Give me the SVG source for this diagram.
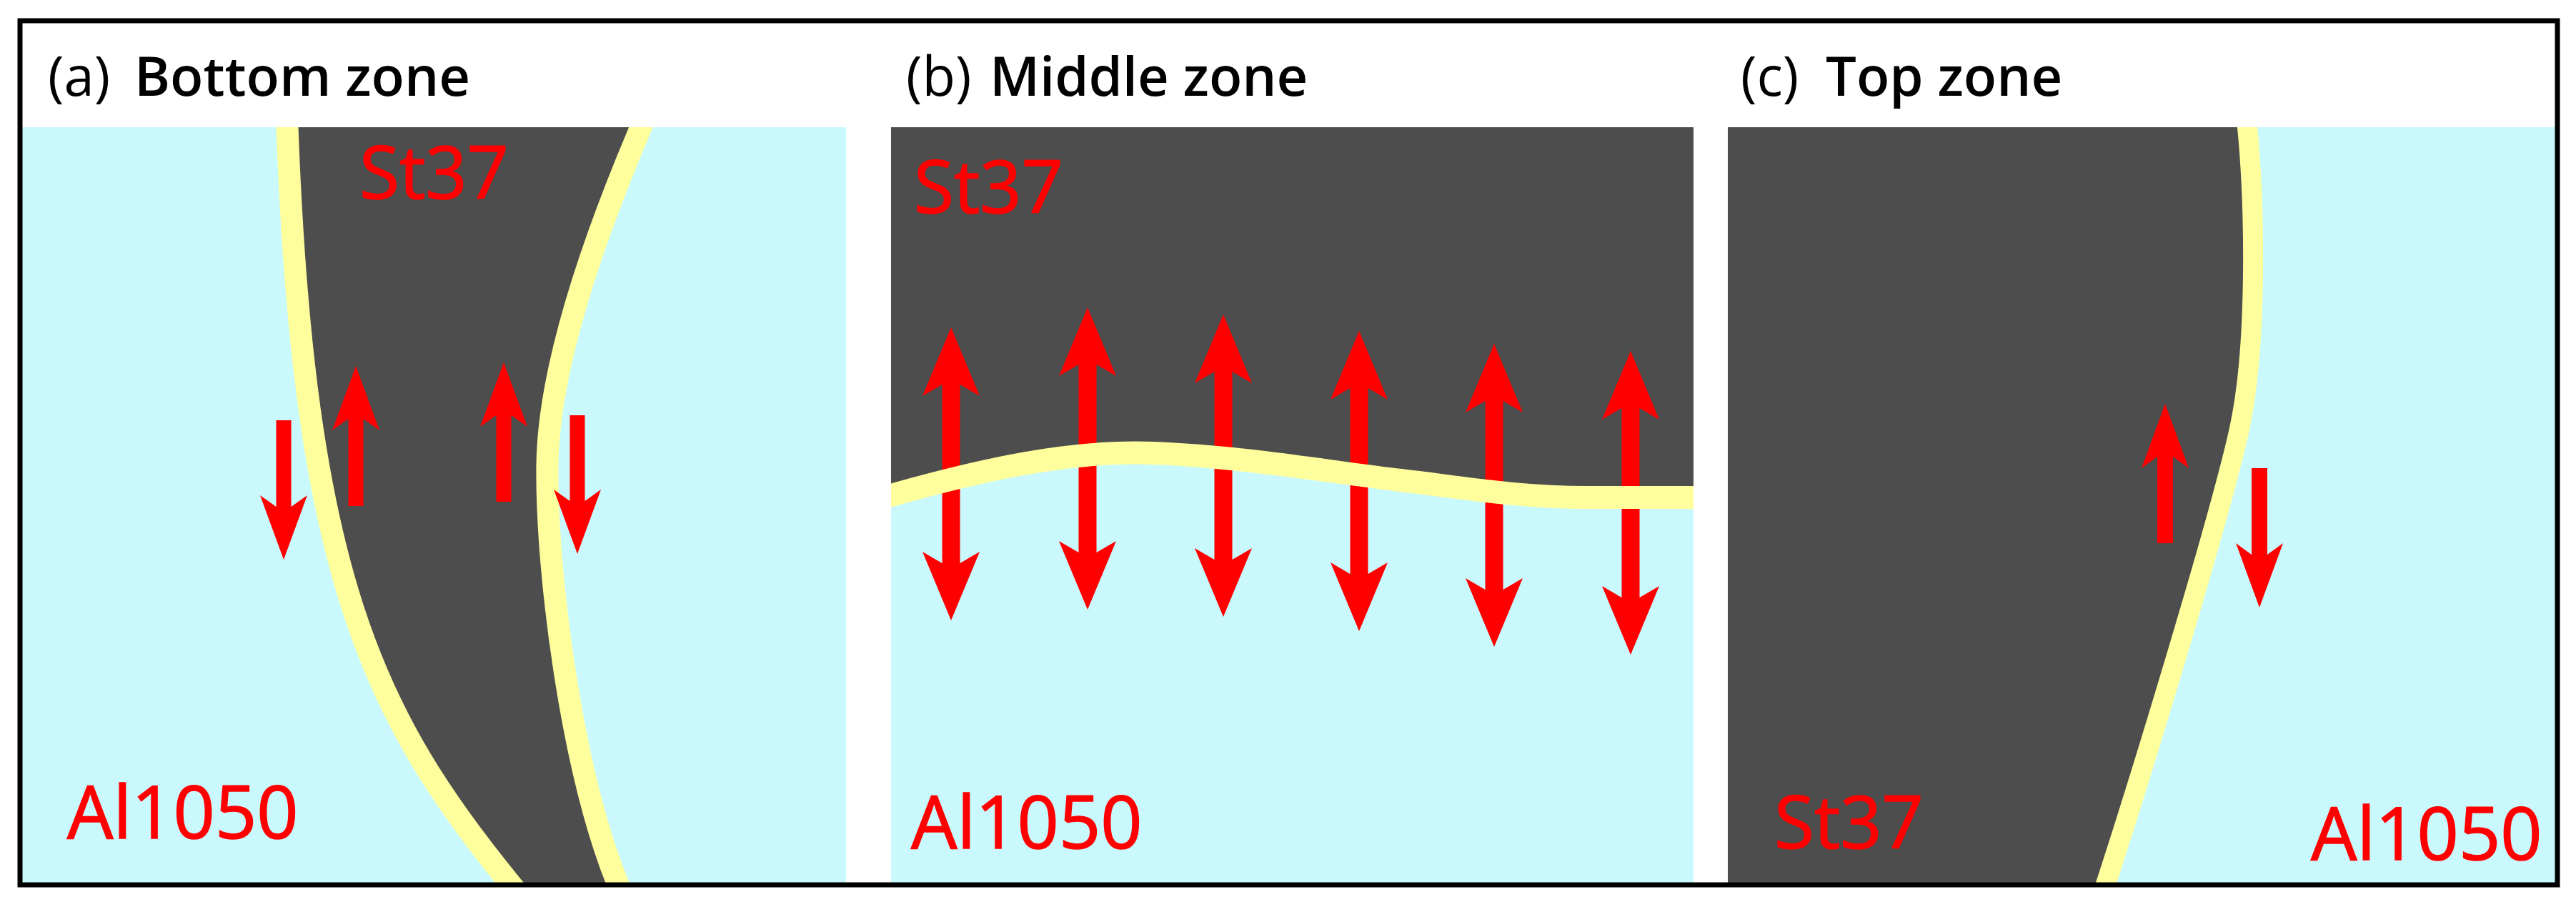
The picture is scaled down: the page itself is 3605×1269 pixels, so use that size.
<svg xmlns="http://www.w3.org/2000/svg" width="3605" height="1269" viewBox="0 0 3605 1269">
<style>
.al{fill:#C9F9FC}
.st{fill:#4D4D4D}
.yb{fill:none;stroke:#FFFE9C;stroke-linejoin:round}
.ar{fill:#FF0000}
.lbl{font-family:"Open Sans","Liberation Sans",sans-serif;font-size:102px;fill:#FF0000;stroke:#FF0000;stroke-width:1.5}
.tp{font-family:"Open Sans","Liberation Sans",sans-serif;font-size:76px;fill:#000000}
.tz{font-weight:600}
</style>
<defs>
<clipPath id="ca"><rect x="30" y="178" width="1154" height="1062"/></clipPath>
<clipPath id="cb"><rect x="1247" y="178" width="1123" height="1062"/></clipPath>
<clipPath id="cc"><rect x="2418" y="178" width="1162" height="1062"/></clipPath>
</defs>
<rect x="0" y="0" width="3605" height="1269" fill="#FFFFFF"/>

<g id="panel-a">
<g clip-path="url(#ca)">
<rect class="al" x="30" y="178" width="1154" height="1062"/>
<path class="st" d="M401,150 L402,178 C425,800 520,1000 717,1240 L746,1275 L1190,1275 L1190,150 Z"/>
<path class="al" d="M908,150 L897,178 C845,300 768,500 766,650 C764,800 800,1080 866,1240 L880,1275 L1190,1275 L1190,150 Z"/>
<path class="yb" stroke-width="31" d="M401,150 L402,178 C425,800 520,1000 717,1240 L746,1275"/>
<path class="yb" stroke-width="31" d="M908,150 L897,178 C845,300 768,500 766,650 C764,800 800,1080 866,1240 L880,1275"/>
</g>
<g id="arrows-a">
<path class="ar" d="M397,783 L430,693 L407.5,709 L407.5,588 L386.5,588 L386.5,709 L364,693 Z"/>
<path class="ar" d="M498,512 L531,602 L508.5,586 L508.5,708 L487.5,708 L487.5,586 L465,602 Z"/>
<path class="ar" d="M705,507 L738,597 L715.5,581 L715.5,702 L694.5,702 L694.5,581 L672,597 Z"/>
<path class="ar" d="M808,775 L841,685 L818.5,701 L818.5,581 L797.5,581 L797.5,701 L775,685 Z"/>
</g>
<text class="tp" x="67" y="134">(a)</text>
<text class="tp tz" x="188" y="134">Bottom zone</text>
<text class="lbl" x="503" y="278">St37</text>
<text class="lbl" x="94" y="1173">Al1050</text>
</g>

<g id="panel-b">
<g clip-path="url(#cb)">
<rect class="al" x="1247" y="178" width="1123" height="1062"/>
<path class="st" d="M1240,150 L1240,695 C1380,655 1500,630 1613,634 C1730,638 1860,660 1960,672 C2060,684 2130,696 2220,696 L2380,696 L2380,150 Z"/>
<g id="arrows-b">
<path class="ar" d="M1331,458 L1371,554 L1343.5,538 L1343.5,788 L1371,772 L1331,868 L1291,772 L1318.5,788 L1318.5,538 L1291,554 Z"/>
<path class="ar" d="M1522,430 L1562,526 L1534.5,510 L1534.5,773 L1562,757 L1522,853 L1482,757 L1509.5,773 L1509.5,510 L1482,526 Z"/>
<path class="ar" d="M1712,440 L1752,536 L1724.5,520 L1724.5,783 L1752,767 L1712,863 L1672,767 L1699.5,783 L1699.5,520 L1672,536 Z"/>
<path class="ar" d="M1902,463 L1942,559 L1914.5,543 L1914.5,803 L1942,787 L1902,883 L1862,787 L1889.5,803 L1889.5,543 L1862,559 Z"/>
<path class="ar" d="M2091,481 L2131,577 L2103.5,561 L2103.5,825 L2131,809 L2091,905 L2051,809 L2078.5,825 L2078.5,561 L2051,577 Z"/>
<path class="ar" d="M2282,491 L2322,587 L2294.5,571 L2294.5,836 L2322,820 L2282,916 L2242,820 L2269.5,836 L2269.5,571 L2242,587 Z"/>
</g>
<path class="yb" stroke-width="32" d="M1240,695 C1380,655 1500,630 1613,634 C1730,638 1860,660 1960,672 C2060,684 2130,696 2220,696 L2380,696"/>
</g>
<text class="tp" x="1268" y="134">(b)</text>
<text class="tp tz" x="1385" y="134">Middle zone</text>
<text class="lbl" x="1279" y="298">St37</text>
<text class="lbl" x="1275" y="1187">Al1050</text>
</g>

<g id="panel-c">
<g clip-path="url(#cc)">
<rect class="st" x="2418" y="178" width="1162" height="1062"/>
<path class="al" d="M3143,150 L3145,178 C3155,280 3160,480 3134,600 C3108,720 2995,1090 2946,1240 L2935,1275 L3600,1275 L3600,150 Z"/>
<path class="yb" stroke-width="28" d="M3143,150 L3145,178 C3155,280 3160,480 3134,600 C3108,720 2995,1090 2946,1240 L2935,1275"/>
</g>
<g id="arrows-c">
<path class="ar" d="M3030,565 L3063,655 L3041,639 L3041,760 L3019,760 L3019,639 L2997,655 Z"/>
<path class="ar" d="M3162,850 L3195,760 L3173,776 L3173,655 L3151,655 L3151,776 L3129,760 Z"/>
</g>
<text class="tp" x="2436" y="134">(c)</text>
<text class="tp tz" x="2555" y="134">Top zone</text>
<text class="lbl" x="2483" y="1187">St37</text>
<text class="lbl" x="3234" y="1203">Al1050</text>
</g>

<rect id="frame" x="28" y="29" width="3551" height="1209" fill="none" stroke="#000000" stroke-width="7"/>
</svg>
